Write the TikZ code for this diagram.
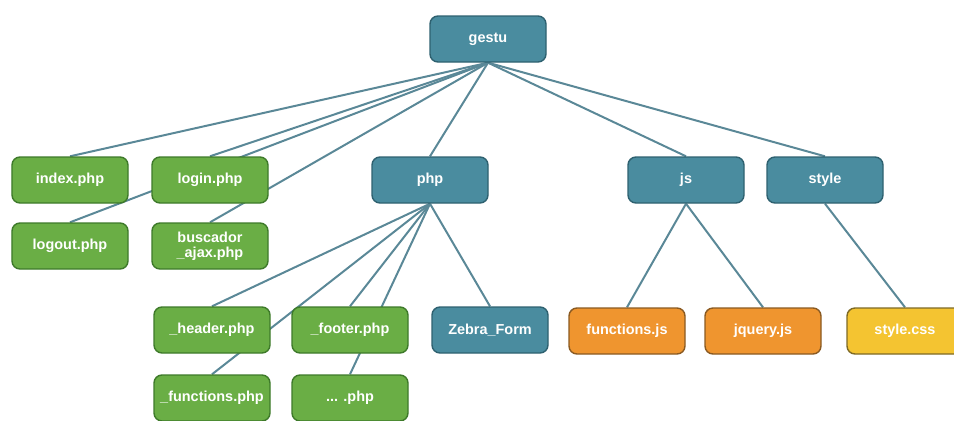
\documentclass[tikz,border=0pt]{standalone}
\usepackage{fontspec}
\setmainfont{Liberation Sans}
\usepackage{xcolor}
\usetikzlibrary{backgrounds}
\definecolor{azul}{HTML}{4A8C9F}
\definecolor{azulb}{HTML}{2E6170}
\definecolor{verde}{HTML}{6AAE45}
\definecolor{verdeb}{HTML}{3E7A2A}
\definecolor{naranja}{HTML}{EF952F}
\definecolor{naranjab}{HTML}{8A5A22}
\definecolor{amarillo}{HTML}{F4C431}
\definecolor{amarillob}{HTML}{7E6A25}
\definecolor{linea}{HTML}{5A8897}
\newcommand{\FN}{\fontsize{14.5}{15}\selectfont\bfseries}

\begin{document}
\begin{tikzpicture}[x=1bp,y=-1bp]
\tikzstyle{caja}=[draw,line width=1.4bp,rounded corners=8bp,minimum width=116bp,minimum height=46bp,inner sep=1bp,text=white,font=\FN,align=center]
\tikzstyle{dir}=[caja,fill=azul,draw=azulb]
\tikzstyle{php}=[caja,fill=verde,draw=verdeb]
\tikzstyle{jsf}=[caja,fill=naranja,draw=naranjab]
\tikzstyle{css}=[caja,fill=amarillo,draw=amarillob]
\tikzstyle{rama}=[linea,line width=2bp]

\useasboundingbox (0,0) rectangle (954,420);

\node[dir] (gestu) at (488,39)  {gestu};

\node[php] (index)    at (70,180)  {index.php};
\node[php] (login)    at (210,180) {login.php};
\node[php] (logout)   at (70,246)  {logout.php};
\node[php] (buscador) at (210,246) {buscador\\\_ajax.php};

\node[dir] (php)   at (430,180) {php};
\node[dir] (js)    at (686,180) {js};
\node[dir] (style) at (825,180) {style};

\node[php] (header)    at (212,330) {\_header.php};
\node[php] (footer)    at (350,330) {\_footer.php};
\node[dir] (zebra)     at (490,330) {Zebra\_Form};
\node[php] (functions) at (212,398) {\_functions.php};
\node[php] (otros)     at (350,398) {... .php};

\node[jsf] (funcjs) at (627,331) {functions.js};
\node[jsf] (jquery) at (763,331) {jquery.js};
\node[css] (stylecss) at (905,331) {style.css};

\begin{scope}[on background layer]
\foreach \n in {index,login,logout,buscador,php,js,style}
  \draw[rama] (gestu.south) -- (\n.north);
\foreach \n in {header,footer,zebra,functions,otros}
  \draw[rama] (php.south) -- (\n.north);
\draw[rama] (js.south) -- (funcjs.north);
\draw[rama] (js.south) -- (jquery.north);
\draw[rama] (style.south) -- (stylecss.north);
\end{scope}
\end{tikzpicture}
\end{document}
